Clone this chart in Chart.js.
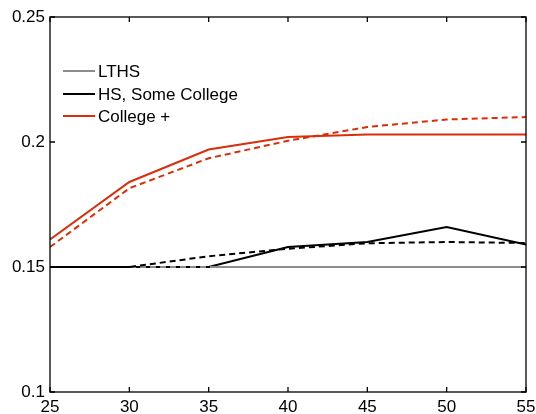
<!DOCTYPE html>
<html>
<head>
<meta charset="utf-8">
<script src="https://cdn.jsdelivr.net/npm/chart.js@4"></script>
<style>
    html, body { margin: 0; padding: 0; background: #fff; }
    #wrap { width: 536px; height: 414px; }
</style>
</head>
<body>
<div id="wrap"><canvas id="ages"></canvas></div>
<script>
// ages on the x axis
var ages = [25, 30, 35, 40, 45, 50, 55];
var x_ticks = [25, 30, 35, 40, 45, 50, 55];
var y_ticks = [0.1, 0.15, 0.2, 0.25];

// solid lines
var lths = [0.15, 0.15, 0.15, 0.15, 0.15, 0.15, 0.15];
var hs_some = [0.15, 0.15, 0.15, 0.158, 0.160, 0.166, 0.159];
var college = [0.161, 0.184, 0.197, 0.202, 0.203, 0.203, 0.203];

// dashed lines
var lths_d = [0.15, 0.15, 0.15, 0.15, 0.15, 0.15, 0.15];
var hs_some_d = [0.15, 0.15, 0.1543, 0.1573, 0.1595, 0.160, 0.1596];
var college_d = [0.158, 0.1815, 0.1935, 0.2005, 0.206, 0.209, 0.210];

var grey = "#8c8c8c";
var black = "#000000";
var red = "#dc2d0a";

function pts(arr) {
    var res = [];
    for (var i = 0; i < ages.length; i++) {
        res.push({x: ages[i], y: arr[i]});
    }
    return res;
}

// higher order is drawn first (underneath)
function line(label, arr, color, dashed, order) {
    return {
        label: label,
        data: pts(arr),
        borderColor: color,
        backgroundColor: color,
        borderWidth: 2,
        borderDash: dashed ? [6, 4] : [],
        pointRadius: 0,
        fill: false,
        tension: 0,
        order: order
    };
}

// legend drawn inside the box, only for the solid lines
var box_legend = {
    id: 'box_legend',
    afterDraw: function (chart) {
        var c = chart.ctx;
        var rows = [[ "LTHS", grey, 71 ], [ "HS, Some College", black, 94 ], [ "College +", red, 116 ]];
        c.save();
        c.font = "17px 'Liberation Sans', Arial, sans-serif";
        c.textBaseline = "middle";
        rows.forEach(function (r) {
            c.strokeStyle = r[1];
            c.lineWidth = 2;
            c.beginPath();
            c.moveTo(63, r[2]);
            c.lineTo(95, r[2]);
            c.stroke();
            c.fillStyle = "#000";
            c.fillText(r[0], 98, r[2] + 1);
        });
        c.restore();
    }
};

// box with inward ticks on all four sides
var box_ticks = {
    id: 'box_ticks',
    afterDraw: function (chart) {
        var c = chart.ctx;
        var a = chart.chartArea;
        var xs = chart.scales.x;
        var ys = chart.scales.y;
        c.save();
        c.strokeStyle = "#000";
        c.lineWidth = 1.3;
        c.strokeRect(a.left, a.top, a.right - a.left, a.bottom - a.top);
        c.beginPath();
        x_ticks.forEach(function (v) {
            var px = xs.getPixelForValue(v);
            c.moveTo(px, a.bottom); c.lineTo(px, a.bottom - 5);
            c.moveTo(px, a.top); c.lineTo(px, a.top + 5);
        });
        y_ticks.forEach(function (v) {
            var py = ys.getPixelForValue(v);
            c.moveTo(a.left, py); c.lineTo(a.left + 5, py);
            c.moveTo(a.right, py); c.lineTo(a.right - 5, py);
        });
        c.stroke();
        c.restore();
    }
};

var tick_font = { family: "'Liberation Sans', Arial, sans-serif", size: 17 };

var chart = new Chart(document.getElementById("ages"), {
    type: 'line',
    data: {
        datasets: [
            line("LTHS", lths, grey, false, 6),
            line("HS, Some College", hs_some, black, false, 5),
            line("College +", college, red, false, 4),
            line("LTHS (dashed)", lths_d, grey, true, 3),
            line("HS, Some College (dashed)", hs_some_d, black, true, 2),
            line("College + (dashed)", college_d, red, true, 1)
        ]
    },
    options: {
        responsive: true,
        maintainAspectRatio: false,
        animation: false,
        layout: { padding: { top: 17, right: 10, left: 0, bottom: 0 } },
        plugins: {
            legend: { display: false },
            tooltip: { enabled: false }
        },
        scales: {
            x: {
                type: 'linear',
                min: 25,
                max: 55,
                afterBuildTicks: function (s) { s.ticks = x_ticks.map(function (v) { return {value: v}; }); },
                afterFit: function (s) {
                    s.height = 22;
                    s.paddingLeft = 0;
                    s.paddingRight = 0;
                },
                grid: { display: false, drawTicks: false, tickLength: 0 },
                border: { display: false },
                ticks: { color: "#000", font: tick_font, padding: 5, maxRotation: 0 }
            },
            y: {
                min: 0.1,
                max: 0.25,
                afterBuildTicks: function (s) { s.ticks = y_ticks.map(function (v) { return {value: v}; }); },
                afterFit: function (s) {
                    s.width = 50;
                    s.paddingTop = 0;
                    s.paddingBottom = 0;
                },
                grid: { display: false, drawTicks: false, tickLength: 0 },
                border: { display: false },
                ticks: {
                    color: "#000",
                    font: tick_font,
                    padding: 5,
                    callback: function (v) { return String(+v.toFixed(2)); }
                }
            }
        }
    },
    plugins: [box_ticks, box_legend]
});
</script>
</body>
</html>
